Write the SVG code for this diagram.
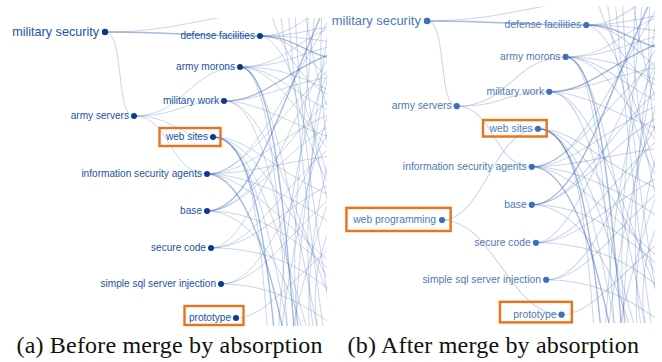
<svg xmlns="http://www.w3.org/2000/svg" xmlns:xlink="http://www.w3.org/1999/xlink" width="662" height="362" viewBox="0 0 662 362">
<style>
  .e { fill: none; stroke: #2a5db0; stroke-opacity: 0.25; stroke-width: 1; }
  .t { fill: none; stroke: #2a5db0; stroke-opacity: 0.42; stroke-width: 1.4; }
  .lblA { font-family: "Liberation Sans", Arial, sans-serif; font-size: 10.1px; fill: #2152a2; text-anchor: end; }
  .lblB { font-family: "Liberation Sans", Arial, sans-serif; font-size: 10.1px; fill: #5079b6; text-anchor: end; }
  .big { font-size: 12.6px; }
  .dotA { fill: #0c3b8c; }
  .dotB { fill: #3d6fbd; }
  .hl { fill: none; stroke: #ea741d; stroke-width: 2.4; }
  .cap { font-family: "Liberation Serif", "Times New Roman", serif; font-size: 24px; fill: #111; }
</style>
<defs>
  <clipPath id="clip"><rect x="0" y="18" width="327" height="308"/></clipPath>
  <g id="tangle">
    <path class="e" d="M260,36 C300,36 310,28 340,26"/>
    <path class="e" d="M260,36 C300,36 315,40 345,44"/>
    <path class="e" d="M260,36 C295,37 315,70 345,90"/>
    <path class="e" d="M260,36 C290,38 320,150 340,220"/>
    <path class="t" d="M260,36 C295,36 305,55 340,60"/>
    <path class="e" d="M260,36 C290,36 300,20 330,5"/>
    <path class="e" d="M240,67 C285,67 300,35 340,25"/>
    <path class="e" d="M240,67 C285,67 305,50 340,45"/>
    <path class="e" d="M240,67 C285,67 305,80 340,95"/>
    <path class="t" d="M240,67 C268,67 282,170 295,340"/>
    <path class="e" d="M240,67 C265,67 278,170 288,340"/>
    <path class="e" d="M240,67 C270,67 290,200 320,340"/>
    <path class="e" d="M240,67 C280,67 305,130 340,160"/>
    <path class="e" d="M240,67 C275,67 300,100 340,115"/>
    <path class="t" d="M224,101 C265,101 285,70 340,50"/>
    <path class="e" d="M224,101 C260,101 280,85 340,75"/>
    <path class="e" d="M224,101 C260,101 285,180 330,300"/>
    <path class="e" d="M224,101 C260,101 300,130 340,140"/>
    <path class="e" d="M224,101 C255,101 275,170 300,340"/>
    <path class="t" d="M213,137 C245,137 262,200 275,340"/>
    <path class="e" d="M213,137 C248,137 268,220 290,340"/>
    <path class="e" d="M213,137 C250,137 280,230 310,340"/>
    <path class="e" d="M213,137 C255,137 300,230 340,300"/>
    <path class="e" d="M213,137 C250,137 270,170 340,200"/>
    <path class="e" d="M213,137 C245,137 258,190 268,340"/>
    <path class="e" d="M207,174 C250,174 290,160 340,155"/>
    <path class="e" d="M207,174 C250,174 285,130 340,110"/>
    <path class="e" d="M207,174 C245,174 280,110 340,60"/>
    <path class="t" d="M207,174 C240,174 265,240 285,340"/>
    <path class="e" d="M207,174 C245,174 290,230 340,270"/>
    <path class="e" d="M207,174 C248,174 300,200 340,230"/>
    <path class="e" d="M207,174 C250,174 280,100 330,18"/>
    <path class="t" d="M207,211 C250,211 275,120 320,18"/>
    <path class="e" d="M207,211 C248,211 280,150 340,120"/>
    <path class="e" d="M207,211 C250,211 290,230 340,280"/>
    <path class="e" d="M207,211 C245,211 285,260 305,340"/>
    <path class="e" d="M207,211 C250,211 280,140 340,90"/>
    <path class="e" d="M211,248 C255,248 285,180 340,140"/>
    <path class="e" d="M211,248 C250,248 285,120 340,40"/>
    <path class="e" d="M211,248 C255,248 300,260 340,300"/>
    <path class="e" d="M211,248 C255,248 290,200 340,180"/>
    <path class="e" d="M221,284 C260,284 290,230 340,190"/>
    <path class="e" d="M221,284 C265,284 300,300 340,330"/>
    <path class="e" d="M221,284 C262,284 290,200 335,120"/>
    <path class="e" d="M236,318 C265,318 290,280 340,240"/>
    <path class="e" d="M295,10 C300,120 315,220 335,340"/>
    <path class="e" d="M315,10 C305,120 285,250 300,340"/>
    <path class="e" d="M330,20 C310,140 300,250 315,340"/>
    <path class="e" d="M280,10 C290,100 320,180 340,200"/>
    <path class="e" d="M340,80 C310,160 290,260 280,340"/>
    <path class="e" d="M340,30 C320,100 300,200 295,340"/>
    <path class="e" d="M305,10 C315,80 330,120 340,130"/>
    <path class="e" d="M340,170 C320,220 300,290 290,340"/>
    <path class="e" d="M270,10 C285,60 310,90 340,100"/>
    <path class="e" d="M322,10 C318,90 325,160 340,180"/>
    <path class="e" d="M288,10 C295,90 305,200 325,340"/>
    <path class="e" d="M340,120 C315,200 305,280 310,340"/>
    <path class="e" d="M310,10 C300,60 310,140 340,250"/>
    <path class="e" d="M340,55 C300,110 285,220 278,340"/>
    <path class="e" d="M340,210 C315,250 310,300 320,340"/>
  </g>
</defs>

<!-- Panel (a) -->
<g id="panel-a">
  <g id="connectors-a" clip-path="url(#clip)">
    <use xlink:href="#tangle"/>
    <path class="t" d="M105,32 C180,32 185,36 260,36"/>
    <path class="e" d="M105,32 C160,32 190,22 240,14"/>
    <path class="e" d="M105,32 C125,32 115,116 134,116"/>
    <path class="e" d="M134,116 C185,116 190,67 240,67"/>
    <path class="e" d="M134,116 C180,116 180,101 224,101"/>
    <path class="e" d="M134,116 C175,116 175,137 213,137"/>
    <path class="e" d="M134,116 C170,116 170,174 207,174"/>
  </g>
  <g id="a-military-security"><circle class="dotA" cx="105" cy="32" r="3.2"/><text class="lblA big" x="99" y="35.5">military security</text></g>
  <g id="a-defense-facilities"><circle class="dotA" cx="260" cy="36" r="3"/><text class="lblA" x="255" y="39">defense facilities</text></g>
  <g id="a-army-morons"><circle class="dotA" cx="240" cy="67" r="3"/><text class="lblA" x="235" y="70">army morons</text></g>
  <g id="a-military-work"><circle class="dotA" cx="224" cy="101" r="3"/><text class="lblA" x="219" y="104">military work</text></g>
  <g id="a-army-servers"><circle class="dotA" cx="134" cy="116" r="3"/><text class="lblA" x="129" y="118.5">army servers</text></g>
  <g id="a-web-sites"><rect class="hl" x="159.5" y="128" width="61" height="18"/><circle class="dotA" cx="213" cy="137" r="3"/><text class="lblA" x="208" y="140">web sites</text></g>
  <g id="a-information-security-agents"><circle class="dotA" cx="207" cy="174" r="3"/><text class="lblA" x="202" y="177">information security agents</text></g>
  <g id="a-base"><circle class="dotA" cx="207" cy="211" r="3"/><text class="lblA" x="202" y="214">base</text></g>
  <g id="a-secure-code"><circle class="dotA" cx="211" cy="248" r="3"/><text class="lblA" x="206" y="251">secure code</text></g>
  <g id="a-simple-sql-server-injection"><circle class="dotA" cx="221" cy="284" r="3"/><text class="lblA" x="216" y="287">simple sql server injection</text></g>
  <g id="a-prototype"><rect class="hl" x="184.5" y="306" width="59" height="19"/><circle class="dotA" cx="236" cy="318" r="3"/><text class="lblA" x="231" y="321">prototype</text></g>
</g>

<!-- Panel (b) -->
<g id="panel-b" transform="translate(319.2,-11.9) scale(1.027)">
  <g id="connectors-b" clip-path="url(#clip)">
    <use xlink:href="#tangle"/>
    <path class="t" d="M105,32 C180,32 185,36 260,36"/>
    <path class="e" d="M105,32 C160,32 190,22 240,14"/>
    <path class="e" d="M105,32 C125,32 115,115 134,115"/>
    <path class="e" d="M134,115 C185,115 190,67 240,67"/>
    <path class="e" d="M134,115 C180,115 180,101 224,101"/>
    <path class="e" d="M134,115 C170,115 170,174 207,174"/>
    <path class="e" d="M119.6,225.8 C160,225.8 170,137 213,137"/>
    <path class="e" d="M119.6,225.8 C170,225.8 185,318 236,318"/>
  </g>
  <g id="b-military-security"><circle class="dotB" cx="105" cy="32" r="3.2"/><text class="lblB big" x="99" y="35.5">military security</text></g>
  <g id="b-defense-facilities"><circle class="dotB" cx="260" cy="36" r="3"/><text class="lblB" x="255" y="39">defense facilities</text></g>
  <g id="b-army-morons"><circle class="dotB" cx="240" cy="67" r="3"/><text class="lblB" x="235" y="70">army morons</text></g>
  <g id="b-military-work"><circle class="dotB" cx="224" cy="101" r="3"/><text class="lblB" x="219" y="104">military work</text></g>
  <g id="b-army-servers"><circle class="dotB" cx="134" cy="115" r="3"/><text class="lblB" x="129" y="118">army servers</text></g>
  <g id="b-web-sites"><rect class="hl" x="159.5" y="128.5" width="62" height="16"/><circle class="dotB" cx="213" cy="137" r="3"/><text class="lblB" x="208" y="140">web sites</text></g>
  <g id="b-information-security-agents"><circle class="dotB" cx="207" cy="174" r="3"/><text class="lblB" x="202" y="177">information security agents</text></g>
  <g id="b-base"><circle class="dotB" cx="207" cy="211" r="3"/><text class="lblB" x="202" y="214">base</text></g>
  <g id="b-web-programming"><rect class="hl" x="26.5" y="214" width="101.5" height="22.5"/><circle class="dotB" cx="119.6" cy="225.8" r="3"/><text class="lblB" x="113.8" y="229">web programming</text></g>
  <g id="b-secure-code"><circle class="dotB" cx="211" cy="248" r="3"/><text class="lblB" x="206" y="251">secure code</text></g>
  <g id="b-simple-sql-server-injection"><circle class="dotB" cx="221" cy="284" r="3"/><text class="lblB" x="216" y="287">simple sql server injection</text></g>
  <g id="b-prototype"><rect class="hl" x="176" y="305.5" width="70" height="20"/><circle class="dotB" cx="236" cy="318" r="3"/><text class="lblB" x="231" y="321">prototype</text></g>
</g>

<text class="cap" x="16.5" y="353" textLength="306" lengthAdjust="spacing">(a) Before merge by absorption</text>
<text class="cap" x="347.5" y="353" textLength="291.5" lengthAdjust="spacing">(b) After merge by absorption</text>
</svg>
